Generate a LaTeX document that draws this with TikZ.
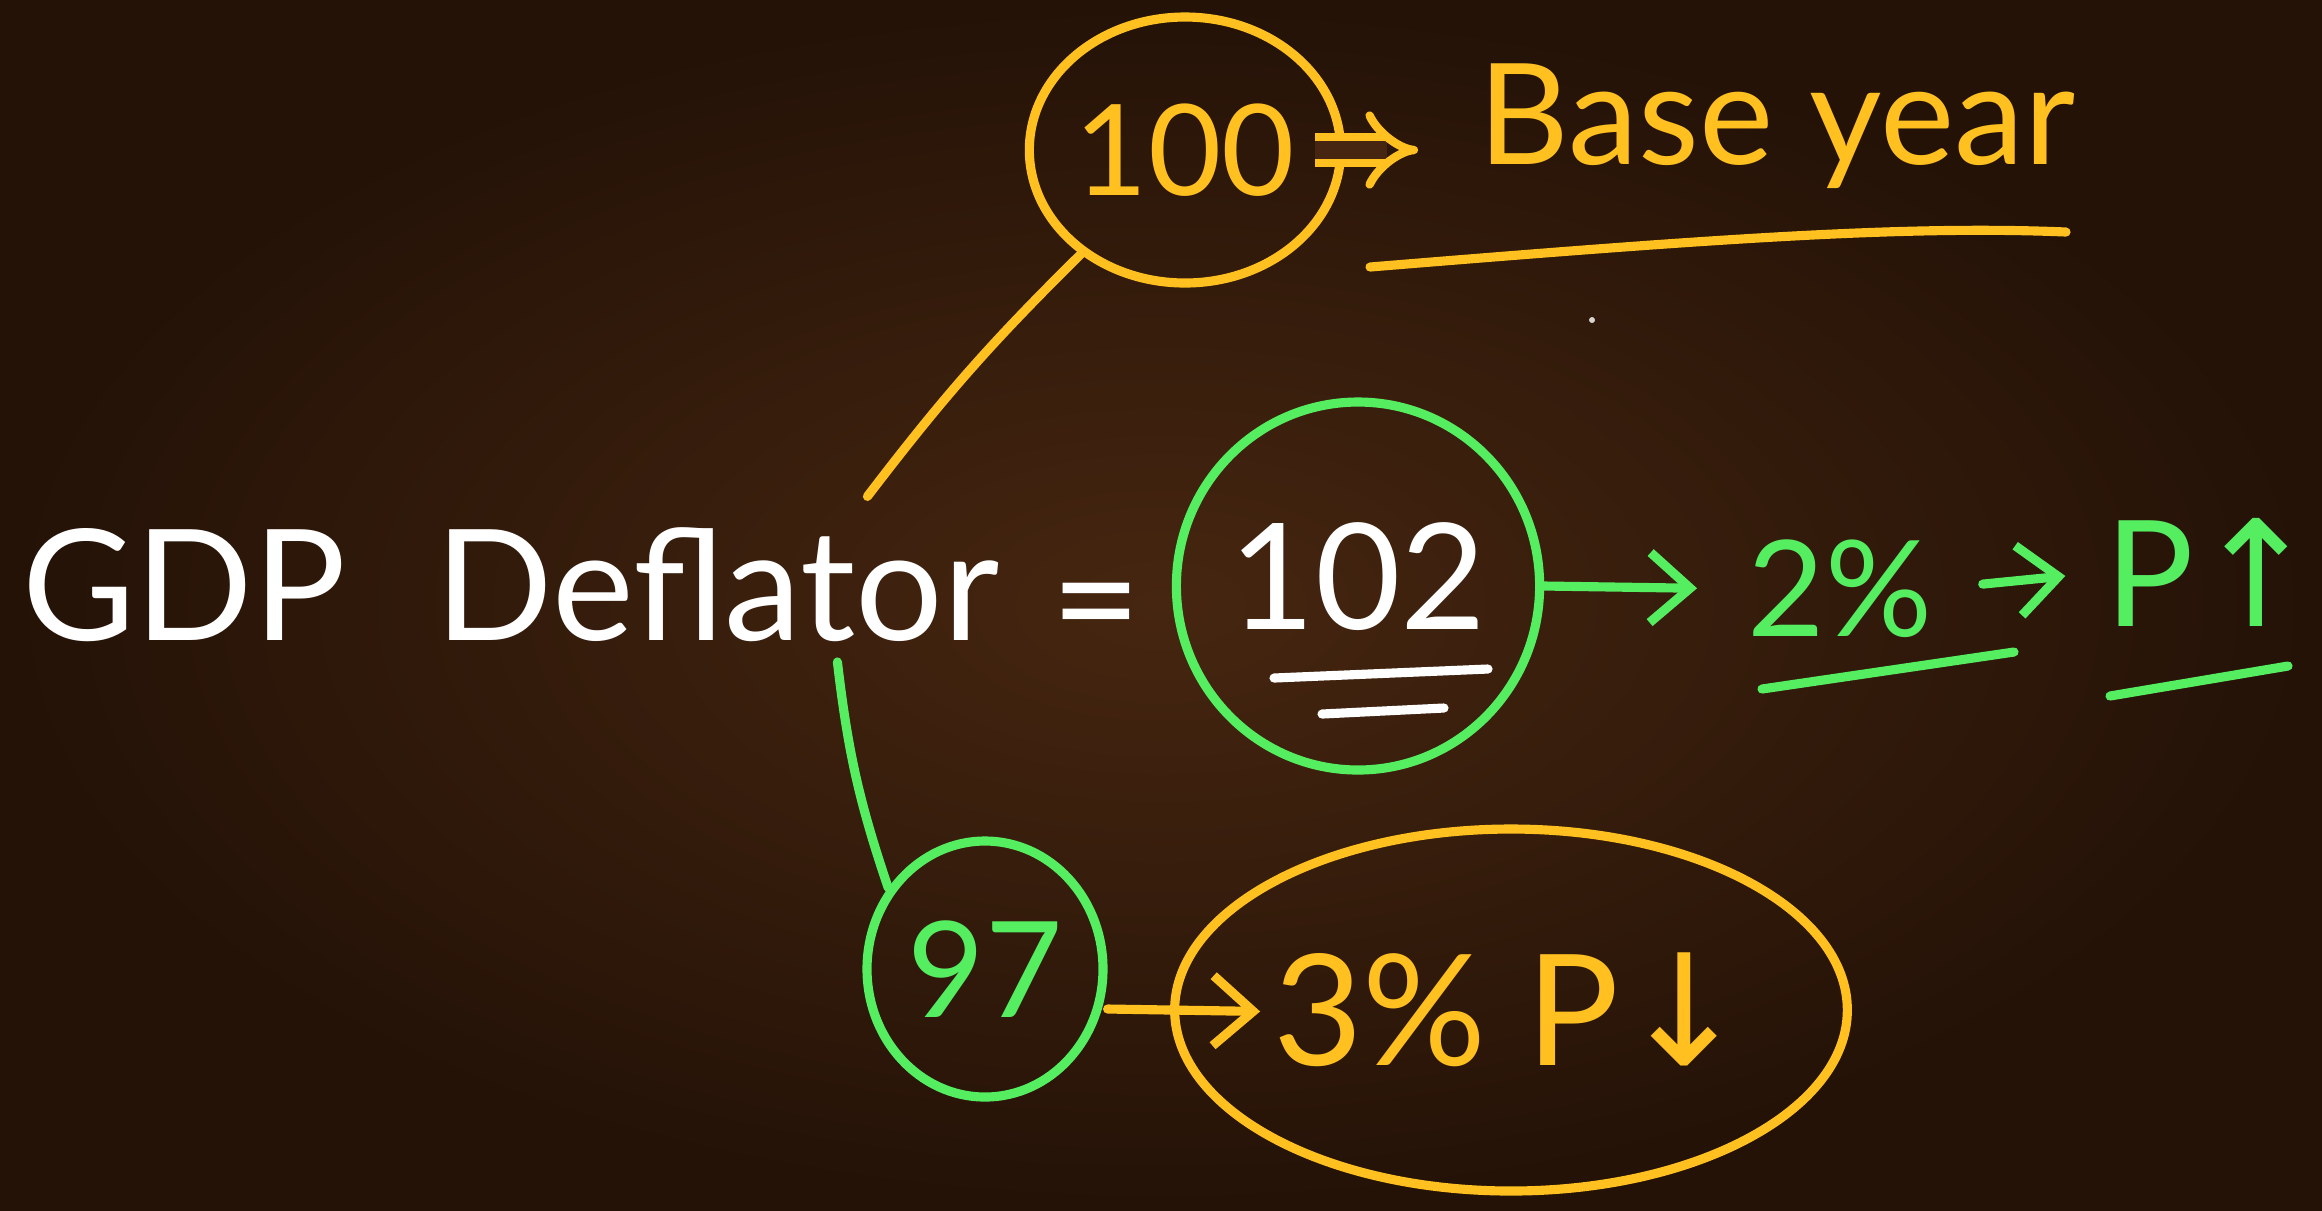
\documentclass[tikz,border=0pt]{standalone}
\usepackage{fontspec}
\setmainfont{Lato}
\newfontfamily\arrowfont{DejaVu Sans}
\usepackage{tikz}
\usetikzlibrary{shapes.geometric, arrows.meta, positioning, calc}

\definecolor{boardin}{RGB}{70,38,16}
\definecolor{boardout}{RGB}{36,18,7}
\definecolor{chalkyellow}{RGB}{255,192,32}
\definecolor{chalkgreen}{RGB}{84,238,96}

\begin{document}
\begin{tikzpicture}[
    x=0.1mm, y=-0.1mm,
    chalk/.style={line width=2.6pt, line cap=round, line join=round},
    word/.style={inner sep=0pt, text=white, font=\fontsize{44}{52}\selectfont},
    ring/.style={ellipse, draw, chalk, inner sep=0pt},
    yring/.style={ring, chalkyellow, text=chalkyellow},
    gring/.style={ring, chalkgreen, text=chalkgreen},
    arrow/.style={chalk, -{Straight Barb[length=4mm, width=7mm]}},
    implies/.style={line width=2.4pt, double=boardin, double distance=5pt, -{Implies[]}}
]

% Board
\useasboundingbox (0,0) rectangle (2322,1210);
\shade[inner color=boardin, outer color=boardout] (0,0) rectangle (2322,1210);

% Main line
\node[word, anchor=base west] (gdp) at (22,640) {GDP};
\node[word, anchor=base west] (defl) at (435,640) {Deflator};
\node[word] (eq) at (1096,618) {=};
\node[gring, text=white, minimum width=34.8mm, minimum height=36.8mm,
      font=\fontsize{42}{50}\selectfont] (c102) at (1358,586) {\raisebox{2mm}{102}};

% Base year
\node[yring, minimum width=30mm, minimum height=26.6mm,
      font=\fontsize{36}{44}\selectfont] (c100) at (1185,150) {100};
\node[word, text=chalkyellow, font=\fontsize{40}{48}\selectfont] (base) at (1777,126) {Base year};

% Rise
\node[word, text=chalkgreen, font=\fontsize{38}{46}\selectfont] (p2) at (1840,589) {2\%};
\node[word, text=chalkgreen, font=\fontsize{42}{50}\selectfont] (pup) at (2212,572) {P{\arrowfont ↑}};

% Fall
\node[gring, minimum width=23.6mm, minimum height=25.6mm,
      font=\fontsize{38}{46}\selectfont] (c97) at (985,969) {97};
\node[yring, minimum width=59.2mm, minimum height=36.2mm,
      font=\fontsize{44}{52}\selectfont] (c3) at (1511,1010) {3\% P{\arrowfont ↓}};

% Connectors
\draw[chalk, chalkyellow] ([xshift=15mm,yshift=3mm]defl.north) to[bend left=4] (c100.225);
\draw[chalk, chalkgreen] ([xshift=12mm,yshift=-2mm]defl.south) to[bend right=6] (c97.140);
\draw[implies, chalkyellow, shorten <=-3mm, shorten >=6mm] (c100.east) -- (c100.east -| base.west);
\draw[arrow, chalkgreen, shorten >=5mm] (c102.east) -- (p2.west);
\draw[arrow, chalkgreen, shorten <=5mm, shorten >=4mm] (p2.east) -- (pup.west);
\draw[arrow, chalkyellow, shorten >=-9mm] ([yshift=-4mm]c97.east) -- (c3.west);

% Underlines
\draw[chalk, chalkyellow] (1370,267) .. controls (1700,240) and (1900,225) .. (2066,232);
\draw[chalk, white] (1274,678) -- (1488,669);
\draw[chalk, white] (1322,714) -- (1444,708);
\draw[chalk, chalkgreen] (1762,689) -- (2014,652);
\draw[chalk, chalkgreen] (2110,696) -- (2288,666);
\fill[white!80!boardin] (1592,320) circle (3);

\end{tikzpicture}
\end{document}
